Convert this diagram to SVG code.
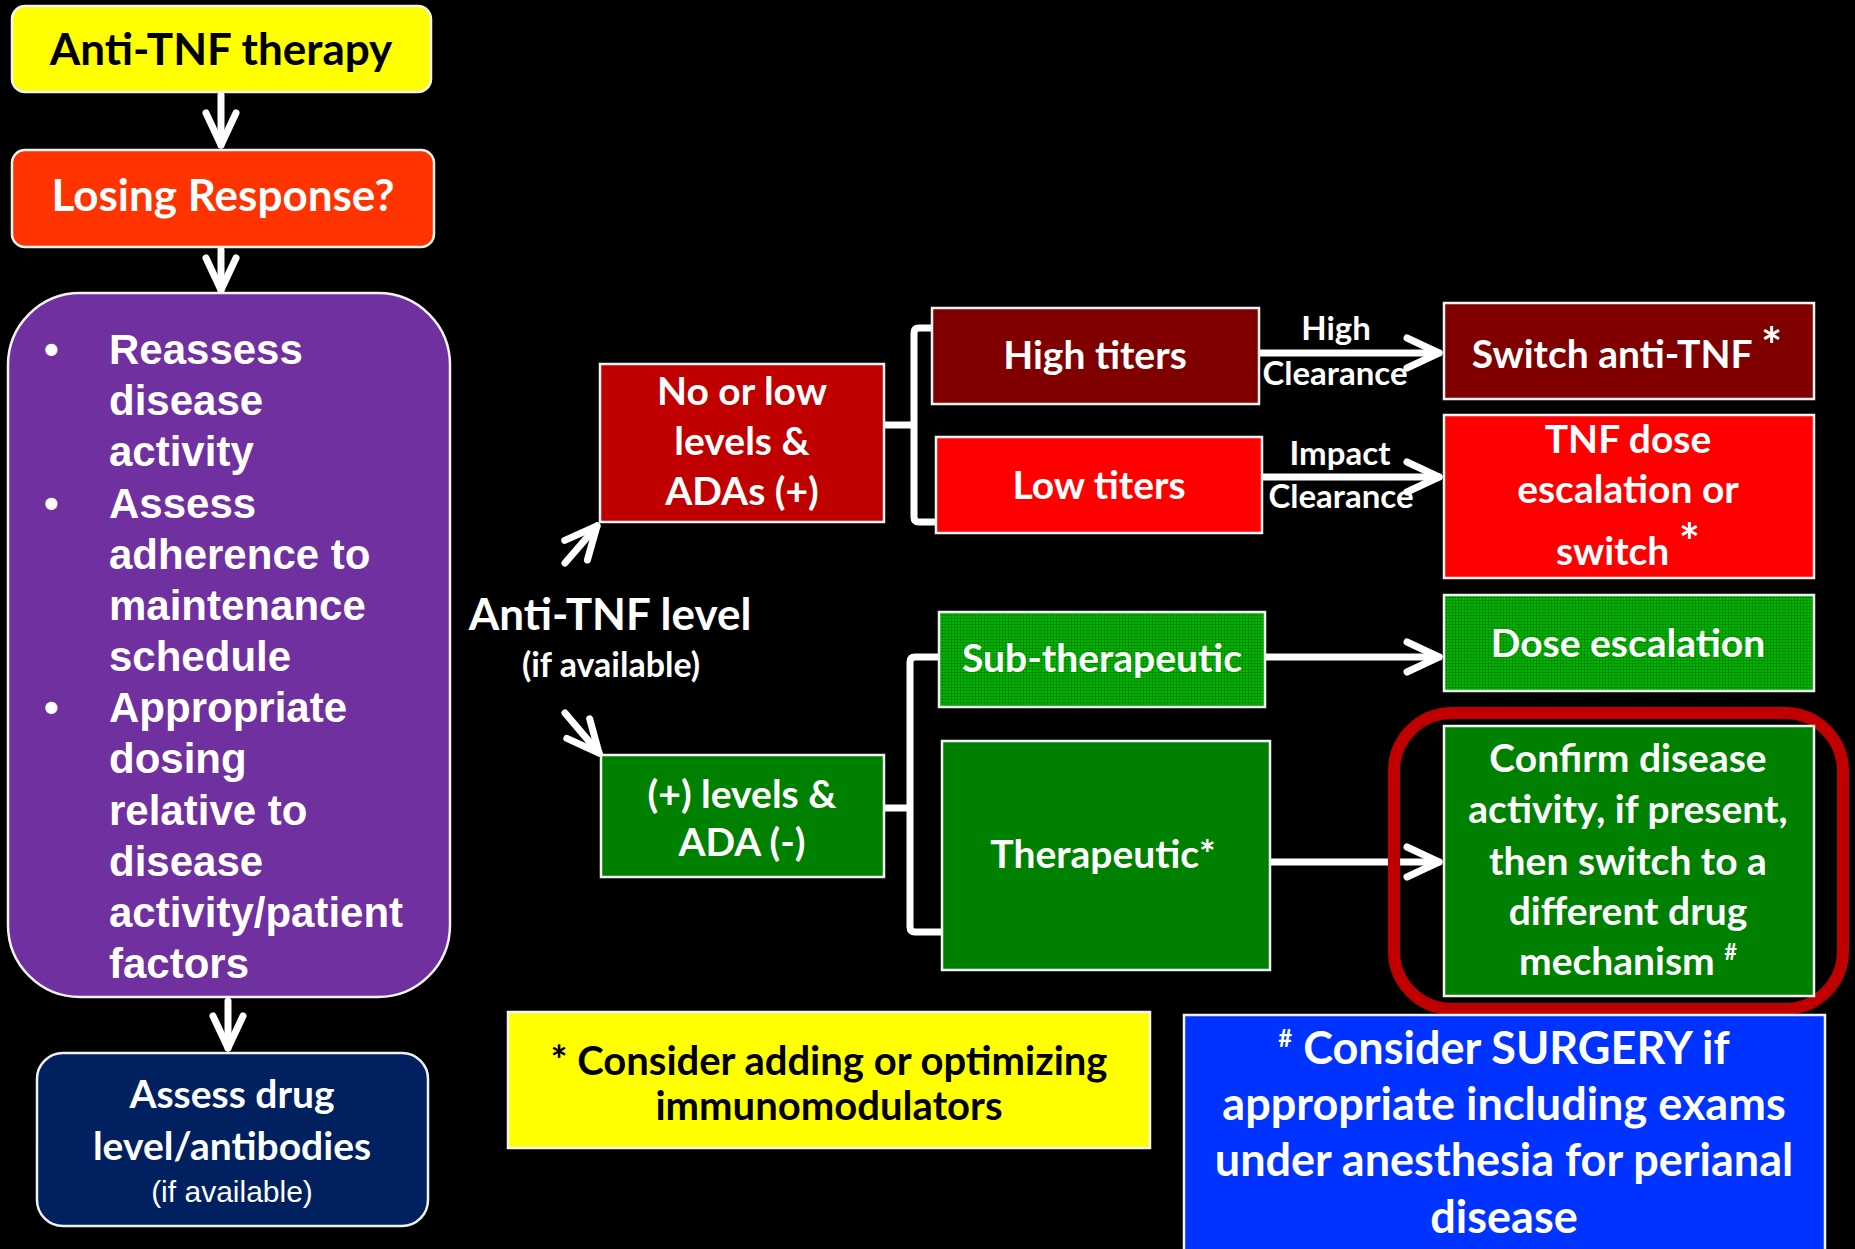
<svg xmlns="http://www.w3.org/2000/svg" width="1855" height="1249" viewBox="0 0 1855 1249">
<defs>
<style>
.t{font-family:Lato,"Open Sans","DejaVu Sans",sans-serif;font-weight:700;fill:#fff;text-anchor:middle}
.k{fill:#000}
.box{stroke:#f2f2f2;stroke-width:2.5}
.ln{stroke:#fff;stroke-width:7;fill:none;stroke-linecap:round;stroke-linejoin:round}
.ar{marker-end:url(#chev)}
.ul{font-family:"Liberation Sans",Arial,sans-serif;font-weight:700;font-size:42px;fill:#fff}
</style>
<marker id="chev" markerUnits="userSpaceOnUse" markerWidth="60" markerHeight="60" viewBox="-45 -30 60 60" refX="0" refY="0" orient="auto" overflow="visible">
<path d="M -32 -15 L 0 0 L -32 15" fill="none" stroke="#fff" stroke-width="7" stroke-linecap="round" stroke-linejoin="round"/>
</marker>
<pattern id="mesh" width="3" height="3" patternUnits="userSpaceOnUse">
<rect width="3" height="3" fill="#00b800"/>
<path d="M0 0.5H3M0.5 0V3" stroke="#008c00" stroke-width="1"/>
</pattern>
</defs>
<rect width="1855" height="1249" fill="#000"/>

<g id="connectors">
<line class="ln ar" x1="221" y1="95" x2="221" y2="145"/>
<line class="ln ar" x1="221" y1="250" x2="221" y2="290"/>
<line class="ln ar" x1="228" y1="1001" x2="228" y2="1048"/>
<line class="ln ar" x1="565" y1="563" x2="597" y2="526"/>
<line class="ln ar" x1="565" y1="713" x2="599" y2="753"/>
<line class="ln ar" x1="1259" y1="353" x2="1439" y2="353"/>
<line class="ln ar" x1="1262" y1="477" x2="1439" y2="477"/>
<line class="ln ar" x1="1265" y1="657" x2="1439" y2="657"/>
<line class="ln ar" x1="1270" y1="862" x2="1439" y2="862"/>
<path class="ln" d="M884 425 H914 M932 328 H919 Q914 328 914 333 V517 Q914 522 919 522 H936"/>
<path class="ln" d="M884 808 H910 M939 657 H915 Q910 657 910 662 V927 Q910 932 915 932 H942"/>
</g>

<g id="anti-tnf-therapy">
<rect class="box" x="12" y="6" width="419" height="86" rx="13" fill="#ffff00"/>
<text class="t k" x="221" y="65" font-size="44">Anti-TNF therapy</text>
</g>

<g id="losing-response">
<rect class="box" x="12" y="150" width="422" height="97" rx="13" fill="#ff3300"/>
<text class="t" x="223" y="211" font-size="44">Losing Response?</text>
</g>

<g id="reassess">
<rect class="box" x="8" y="293" width="442" height="704" rx="72" fill="#7030a0"/>
<g class="ul">
<text x="44" y="364">•</text>
<text x="109" y="364">Reassess</text>
<text x="109" y="415">disease</text>
<text x="109" y="466">activity</text>
<text x="44" y="518">•</text>
<text x="109" y="518">Assess</text>
<text x="109" y="569">adherence to</text>
<text x="109" y="620">maintenance</text>
<text x="109" y="671">schedule</text>
<text x="44" y="722">•</text>
<text x="109" y="722">Appropriate</text>
<text x="109" y="773">dosing</text>
<text x="109" y="825">relative to</text>
<text x="109" y="876">disease</text>
<text x="109" y="927">activity/patient</text>
<text x="109" y="978">factors</text>
</g>
</g>

<g id="assess-drug">
<rect class="box" x="37" y="1053" width="391" height="173" rx="26" fill="#002060"/>
<text class="t" x="232" y="1108" font-size="39">Assess drug</text>
<text class="t" x="232" y="1160" font-size="39">level/antibodies</text>
<text x="232" y="1202" font-size="30" fill="#fff" text-anchor="middle" font-family="'Liberation Sans',Arial,sans-serif">(if available)</text>
</g>

<g id="anti-tnf-level">
<text class="t" x="610" y="630" font-size="44">Anti-TNF level</text>
<text class="t" x="611" y="677" font-size="34">(if available)</text>
</g>

<g id="no-or-low">
<rect class="box" x="600" y="364" width="284" height="158" fill="#c00000"/>
<text class="t" x="742" y="405" font-size="39">No or low</text>
<text class="t" x="742" y="455" font-size="39">levels &amp;</text>
<text class="t" x="742" y="505" font-size="39">ADAs (+)</text>
</g>

<g id="high-titers">
<rect class="box" x="932" y="308" width="327" height="96" fill="#800000"/>
<text class="t" x="1095" y="369" font-size="39">High titers</text>
</g>

<g id="low-titers">
<rect class="box" x="936" y="437" width="326" height="96" fill="#ff0000"/>
<text class="t" x="1099" y="499" font-size="39">Low titers</text>
</g>

<g id="labels">
<text class="t" x="1336" y="340" font-size="33">High</text>
<text class="t" x="1335" y="385" font-size="33">Clearance</text>
<text class="t" x="1340" y="465" font-size="33">Impact</text>
<text class="t" x="1341" y="508" font-size="33">Clearance</text>
</g>

<g id="switch-anti-tnf">
<rect class="box" x="1444" y="303" width="370" height="96" fill="#800000"/>
<text class="t" x="1627" y="368" font-size="39">Switch anti-TNF <tspan font-size="50" dy="-4">*</tspan></text>
</g>

<g id="tnf-dose">
<rect class="box" x="1444" y="415" width="370" height="163" fill="#ff0000"/>
<text class="t" x="1628" y="453" font-size="39">TNF dose</text>
<text class="t" x="1628" y="503" font-size="39">escalation or</text>
<text class="t" x="1628" y="565" font-size="39">switch <tspan font-size="50" dy="-5">*</tspan></text>
</g>

<g id="plus-levels">
<rect class="box" x="601" y="755" width="283" height="122" fill="#008000"/>
<text class="t" x="742" y="808" font-size="39">(+) levels &amp;</text>
<text class="t" x="742" y="856" font-size="39">ADA (-)</text>
</g>

<g id="sub-therapeutic">
<rect class="box" x="939" y="612" width="326" height="95" fill="url(#mesh)"/>
<text class="t" x="1102" y="672" font-size="39">Sub-therapeutic</text>
</g>

<g id="therapeutic">
<rect class="box" x="942" y="741" width="328" height="229" fill="#008000"/>
<text class="t" x="1103" y="868" font-size="39">Therapeutic*</text>
</g>

<g id="dose-escalation">
<rect class="box" x="1444" y="595" width="370" height="96" fill="url(#mesh)"/>
<text class="t" x="1628" y="657" font-size="39">Dose escalation</text>
</g>

<g id="confirm">
<rect x="1394" y="713" width="449" height="296" rx="58" fill="none" stroke="#c00000" stroke-width="12"/>
<rect class="box" x="1444" y="726" width="370" height="270" fill="#008000"/>
<text class="t" x="1628" y="772" font-size="39">Confirm disease</text>
<text class="t" x="1628" y="823" font-size="39">activity, if present,</text>
<text class="t" x="1628" y="875" font-size="39">then switch to a</text>
<text class="t" x="1628" y="925" font-size="39">different drug</text>
<text class="t" x="1628" y="975" font-size="39">mechanism <tspan font-size="22" dy="-15">#</tspan></text>
</g>

<g id="immunomodulators">
<rect class="box" x="508" y="1012" width="642" height="136" fill="#ffff00"/>
<text class="t k" x="829" y="1075" font-size="40">* Consider adding or optimizing</text>
<text class="t k" x="829" y="1120" font-size="40">immunomodulators</text>
</g>

<g id="surgery">
<rect class="box" x="1184" y="1015" width="641" height="250" fill="#0033ff"/>
<text class="t" x="1504" y="1064" font-size="45"><tspan font-size="24" dy="-17">#</tspan><tspan dy="17"> Consider SURGERY if</tspan></text>
<text class="t" x="1504" y="1120" font-size="45">appropriate including exams</text>
<text class="t" x="1504" y="1176" font-size="45">under anesthesia for perianal</text>
<text class="t" x="1504" y="1233" font-size="45">disease</text>
</g>
</svg>
